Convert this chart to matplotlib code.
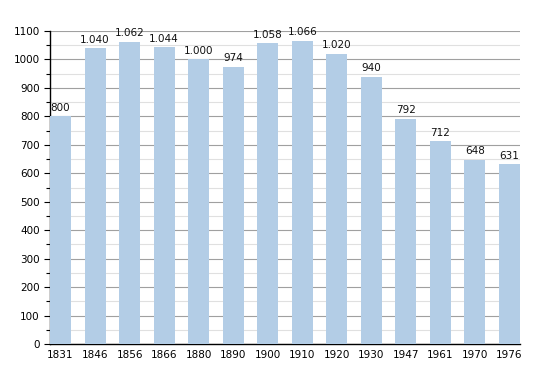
import matplotlib
matplotlib.use("Agg")
import matplotlib.pyplot as plt
from matplotlib.ticker import MultipleLocator

years = ["1831", "1846", "1856", "1866", "1880", "1890", "1900", "1910", "1920", "1930", "1947", "1961", "1970", "1976"]
population = [800, 1040, 1062, 1044, 1000, 974, 1058, 1066, 1020, 940, 792, 712, 648, 631]
value_labels = ["800", "1.040", "1.062", "1.044", "1.000", "974", "1.058", "1.066", "1.020", "940", "792", "712", "648", "631"]

fig = plt.figure(figsize=(5.5, 3.73), dpi=100)
ax = fig.add_axes([50/550, 29/373, 470/550, 313/373])

x = list(range(len(years)))
ax.bar(x, population, width=0.61, color="#b3cde6", zorder=3)
for xi, v, lab in zip(x, population, value_labels):
    ax.text(xi, v + 12, lab, ha="center", va="bottom", fontsize=7.5, color="#111111", zorder=4)

ax.set_xlim(-0.305, len(years) - 1 + 0.305)
ax.set_ylim(0, 1100)
ax.set_xticks(x)
ax.set_xticklabels(years, fontsize=7.5)
ax.yaxis.set_major_locator(MultipleLocator(100))
ax.yaxis.set_minor_locator(MultipleLocator(50))
ax.tick_params(axis="y", labelsize=7.5, which="major", length=4, width=0.8)
ax.tick_params(axis="y", which="minor", length=3, width=0.8)
ax.tick_params(axis="x", length=0, pad=4)
ax.grid(axis="y", which="major", color="#a0a0a0", linewidth=0.8, zorder=1)
ax.grid(axis="y", which="minor", color="#e0e0e0", linewidth=0.8, zorder=1)
for s in ["top", "right"]:
    ax.spines[s].set_visible(False)
ax.spines["left"].set_linewidth(1.0)
ax.spines["bottom"].set_linewidth(1.0)

fig.savefig("out.png", dpi=100)
